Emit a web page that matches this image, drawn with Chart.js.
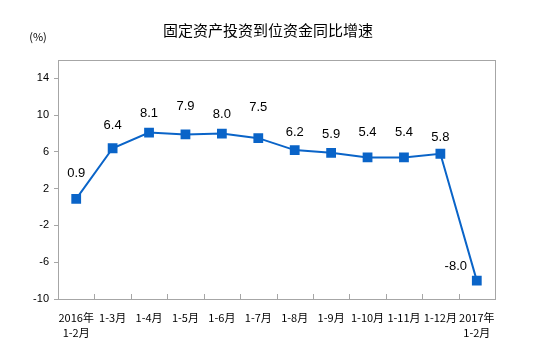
<!DOCTYPE html>
<html>
<head>
<meta charset="utf-8">
<script src="https://cdn.jsdelivr.net/npm/chart.js@4/dist/chart.umd.min.js"></script>
<style>
  html, body { margin: 0; padding: 0; background: #fff; }
  #wrap { width: 553px; height: 362px; }
</style>
</head>
<body>
<div id="wrap"><canvas id="chartCanvas" width="553" height="362"></canvas></div>
<script>
// --- data ---
const months = [
  ["2016年", "1-2月"], "1-3月", "1-4月", "1-5月", "1-6月", "1-7月",
  "1-8月", "1-9月", "1-10月", "1-11月", "1-12月", ["2017年", "1-2月"]
];
const growth = [0.9, 6.4, 8.1, 7.9, 8.0, 7.5, 6.2, 5.9, 5.4, 5.4, 5.8, -8.0];
const yTicks = [-10, -6, -2, 2, 6, 10, 14];

// label placement relative to each point (px)
const labelDy = [-25, -23, -19, -28, -19, -31, -18, -18, -25, -25, -16, -14];
const labelDx = [0, 0, 0, 0, 0, 0, 0, 0, 0, 0, 0, -21];

const blue = "#0a64c8";
const axisGray = "#a6a6a6";

// title, unit, frame, inner x ticks, value labels
const decor = {
  id: "decor",
  afterDraw(chart) {
    const { ctx, chartArea: a } = chart;
    const x = chart.scales.x;
    ctx.save();
    // frame
    ctx.strokeStyle = axisGray;
    ctx.lineWidth = 1;
    ctx.strokeRect(Math.round(a.left) + 0.5, Math.round(a.top) + 0.5,
      Math.round(a.right - a.left), Math.round(a.bottom - a.top));
    // x tick marks between categories, pointing up
    for (let i = 1; i < months.length; i++) {
      const px = Math.round((x.getPixelForValue(i - 1) + x.getPixelForValue(i)) / 2) + 0.5;
      ctx.beginPath();
      ctx.moveTo(px, a.bottom);
      ctx.lineTo(px, a.bottom - 5);
      ctx.stroke();
    }
    // title
    ctx.fillStyle = "#000";
    ctx.textAlign = "center";
    ctx.textBaseline = "middle";
    ctx.font = "15px 'Noto Sans CJK SC'";
    ctx.fillText("固定资产投资到位资金同比增速", 268, 30);
    ctx.font = "11px 'Noto Sans CJK SC'";
    ctx.fillText("(%)", 38, 37);
    // value labels
    ctx.font = "13px 'Liberation Sans'";
    const meta = chart.getDatasetMeta(0);
    meta.data.forEach((pt, i) => {
      ctx.fillText(growth[i].toFixed(1), pt.x + labelDx[i], pt.y + labelDy[i]);
    });
    ctx.restore();
  }
};

new Chart(document.getElementById("chartCanvas"), {
  type: "line",
  data: {
    labels: months,
    datasets: [{
      data: growth,
      borderColor: blue,
      backgroundColor: blue,
      borderWidth: 2,
      pointStyle: "rect",
      pointRadius: 5.5,
      pointHoverRadius: 5.5,
      tension: 0
    }]
  },
  options: {
    responsive: false,
    animation: false,
    events: [],
    layout: { padding: { top: 60, right: 58, left: 0, bottom: 0 } },
    plugins: {
      legend: { display: false },
      tooltip: { enabled: false },
      title: { display: false }
    },
    scales: {
      x: {
        offset: true,
        grid: { display: false, drawTicks: false },
        border: { color: axisGray },
        ticks: {
          color: "#000",
          padding: 11,
          maxRotation: 0,
          autoSkip: false,
          font: { family: "'Noto Sans CJK SC'", size: 11, lineHeight: 1.36 }
        },
        afterFit(s) { s.height = 63; }
      },
      y: {
        min: -10,
        max: 16,
        afterBuildTicks(s) { s.ticks = yTicks.map(v => ({ value: v })); },
        grid: { drawOnChartArea: false, drawTicks: true, tickLength: 4, color: axisGray },
        border: { color: axisGray },
        ticks: {
          color: "#000",
          padding: 5,
          font: { family: "'Liberation Sans'", size: 11 }
        },
        afterFit(s) { s.width = 58; }
      }
    }
  },
  plugins: [decor]
});
</script>
</body>
</html>
